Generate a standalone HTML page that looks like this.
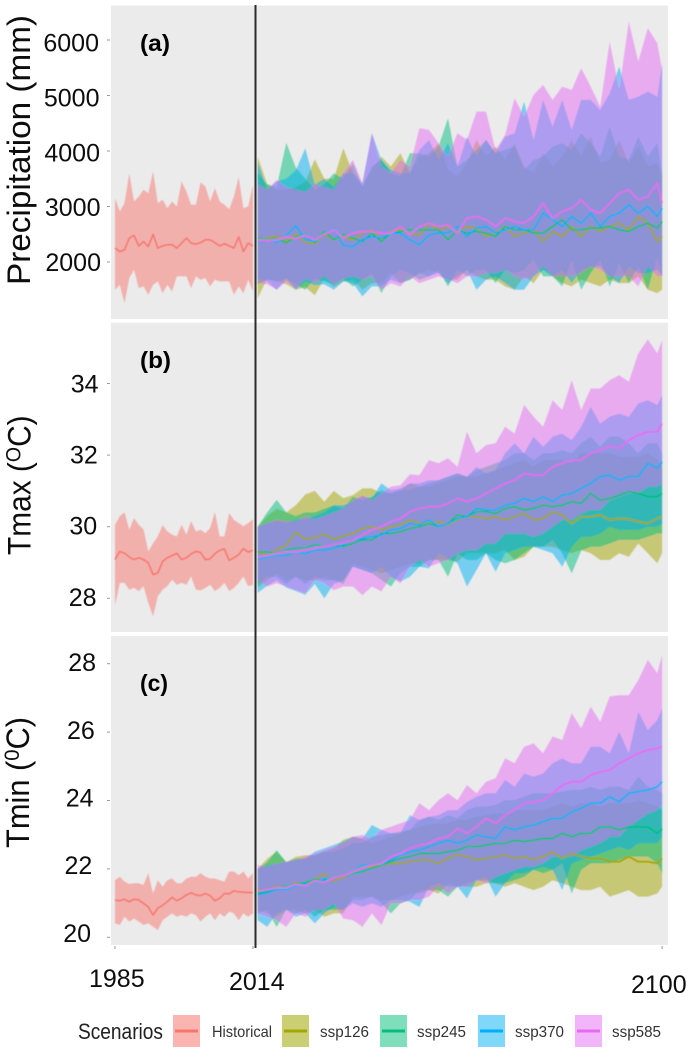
<!DOCTYPE html>
<html lang="en">
<head>
<meta charset="utf-8">
<title>Precipitation, Tmax and Tmin scenarios</title>
<style>
html,body{margin:0;padding:0;background:#fff;}
svg{display:block;font-family:"Liberation Sans",sans-serif;}
</style>
</head>
<body>
<svg id="chart" xmlns="http://www.w3.org/2000/svg" width="696" height="1060" viewBox="0 0 696 1060">
  <defs>
    <filter id="soft" x="-2%" y="-2%" width="104%" height="104%"><feGaussianBlur stdDeviation="0.6"/></filter>
    <filter id="softText" x="-5%" y="-5%" width="110%" height="110%"><feGaussianBlur stdDeviation="0.35"/></filter>
  </defs>
  <rect x="0" y="0" width="696" height="1060" fill="#ffffff"/>
  <rect x="111" y="5.5" width="557" height="313.5" fill="#ebebeb"/>
  <rect x="111" y="322.7" width="557" height="309.3" fill="#ebebeb"/>
  <rect x="111" y="636" width="557" height="309" fill="#ebebeb"/>
  <g id="marks" filter="url(#soft)"></g>
  <g id="axes" filter="url(#softText)"></g>
  <line x1="255.5" x2="255.5" y1="5" y2="948" stroke="#2b2b2b" stroke-width="2"/>
  <g filter="url(#softText)">
    <text x="140" y="51" font-size="23" font-weight="bold" fill="#000" textLength="30" lengthAdjust="spacingAndGlyphs">(a)</text>
    <text x="140" y="368" font-size="23" font-weight="bold" fill="#000" textLength="31" lengthAdjust="spacingAndGlyphs">(b)</text>
    <text x="140" y="691" font-size="23" font-weight="bold" fill="#000" textLength="28" lengthAdjust="spacingAndGlyphs">(c)</text>
    <text transform="translate(30,285) rotate(-90)" font-size="32" fill="#111" textLength="270" lengthAdjust="spacingAndGlyphs">Precipitation (mm)</text>
    <text transform="translate(30.5,555) rotate(-90) scale(0.933,1)" font-size="32" fill="#111">Tmax (<tspan font-size="21" dy="-10">O</tspan><tspan dy="10">C)</tspan></text>
    <text transform="translate(29,848) rotate(-90) scale(0.963,1)" font-size="32" fill="#111">Tmin (<tspan font-size="21" dy="-10">0</tspan><tspan dy="10">C)</tspan></text>
    <text x="89" y="987" font-size="25" fill="#111">1985</text>
    <text x="229" y="990" font-size="25" fill="#111">2014</text>
    <text x="631" y="993" font-size="25" fill="#111">2100</text>
    <text x="78" y="1039" font-size="22" fill="#222" textLength="85" lengthAdjust="spacingAndGlyphs">Scenarios</text>
  </g>
  <g filter="url(#softText)">
    <rect x="173" y="1015" width="27" height="32" fill="#f8766d" fill-opacity="0.55"/>
    <line x1="175" x2="198" y1="1031" y2="1031" stroke="#f8766d" stroke-width="3"/>
    <text x="212" y="1037" font-size="16" fill="#333" textLength="60" lengthAdjust="spacingAndGlyphs">Historical</text>
  </g>
  <g filter="url(#softText)">
    <rect x="282" y="1015" width="27" height="32" fill="#a3a500" fill-opacity="0.55"/>
    <line x1="284" x2="307" y1="1031" y2="1031" stroke="#a3a500" stroke-width="3"/>
    <text x="320" y="1037" font-size="16" fill="#333" textLength="49" lengthAdjust="spacingAndGlyphs">ssp126</text>
  </g>
  <g filter="url(#softText)">
    <rect x="380" y="1015" width="27" height="32" fill="#00bf7d" fill-opacity="0.5"/>
    <line x1="382" x2="405" y1="1031" y2="1031" stroke="#00bf7d" stroke-width="3"/>
    <text x="417" y="1037" font-size="16" fill="#333" textLength="49" lengthAdjust="spacingAndGlyphs">ssp245</text>
  </g>
  <g filter="url(#softText)">
    <rect x="478" y="1015" width="27" height="32" fill="#00b0f6" fill-opacity="0.5"/>
    <line x1="480" x2="503" y1="1031" y2="1031" stroke="#00b0f6" stroke-width="3"/>
    <text x="515" y="1037" font-size="16" fill="#333" textLength="49" lengthAdjust="spacingAndGlyphs">ssp370</text>
  </g>
  <g filter="url(#softText)">
    <rect x="575" y="1015" width="27" height="32" fill="#e76bf3" fill-opacity="0.5"/>
    <line x1="577" x2="600" y1="1031" y2="1031" stroke="#e76bf3" stroke-width="3"/>
    <text x="612" y="1037" font-size="16" fill="#333" textLength="49" lengthAdjust="spacingAndGlyphs">ssp585</text>
  </g>
</svg>
<script>
const historicalYears = [1985,1986,1987,1988,1989,1990,1991,1992,1993,1994,1995,1996,1997,1998,1999,2000,2001,2002,2003,2004,2005,2006,2007,2008,2009,2010,2011,2012,2013,2014];
const futureYears = [2015,2017,2019,2021,2023,2025,2027,2029,2031,2033,
  2035,2037,2039,2041,2043,2045,2047,2049,2051,2053,2055,2057,2059,2061,2063,2065,2067,2069,2071,2073,2075,2077,2079,2081,2083,2085,2087,2089,2091,2093,2095,2097,2099,2100];

const precipTicks = [2000,3000,4000,5000,6000];
const tmaxTicks = [28,30,32,34];
const tminTicks = [20,22,24,26,28];

/* Precipitation (mm) */
const precipHistUpper = [3150,2910,3060,3600,3090,3180,3300,3240,3630,3060,3120,2970,3090,3000,3450,3270,3030,3030,3432,3360,3090,3330,3090,3030,2952,3180,3528,2970,3000,3390];
const precipHistLower = [1500,1590,1260,1710,1860,1530,1560,1410,1590,1650,1440,1590,1470,1740,1740,1740,1530,1740,1680,1710,1560,1680,1650,1650,1650,1410,1560,1440,1680,1470];
const precipHistMean = [2250,2190,2220,2430,2480,2290,2370,2280,2500,2250,2290,2310,2310,2250,2340,2430,2340,2320,2350,2400,2400,2350,2290,2330,2290,2250,2450,2190,2340,2290];

const precip126Upper = [3900,3400,3300,3300,3350,3450,3850,3500,3500,4050,
  3600,3360,3660,3900,3720,3960,3600,3900,3960,4140,3660,3540,3780,4200,3900,4080,3840,4140,3720,3600,3960,3720,3900,4200,3900,4260,3780,3840,4200,3780,4080,3720,3780,3540];
const precip126Lower = [1350,1700,1650,1600,1500,1550,1400,1700,1550,1650,
  1680,1500,1620,1620,1800,1620,1680,1800,1860,1800,1680,1680,1860,1740,1680,1680,1560,1500,1740,1620,1860,1740,1620,1560,1680,1620,1560,1680,1620,1620,1740,1500,1440,1500];
const precip126Mean = [2400,2430,2470,2380,2500,2350,2330,2500,2400,2450,
  2400,2520,2580,2400,2550,2580,2520,2490,2700,2580,2640,2520,2640,2610,2460,2520,2640,2460,2520,2580,2370,2550,2460,2640,2460,2640,2550,2640,2700,2580,2820,2700,2370,2460];

const precip245Upper = [3600,3400,3350,4150,3700,3500,3300,3400,3600,3500,
  3780,3360,3720,3840,3600,3540,3960,3960,3900,4080,4590,3720,3840,4020,4200,3960,4020,4080,3660,3840,3900,4080,4140,4020,4320,4140,3900,4440,3900,3840,4260,3900,4140,3600];
const precip245Lower = [1600,1680,1650,1700,1600,1500,1700,1650,1600,1700,
  1560,1680,1800,1440,1740,1860,1800,1680,1740,1860,1560,1860,1740,1860,1860,1620,1860,1800,1860,2040,1740,1740,1560,2040,1500,1800,2040,1560,1980,1620,1920,1500,2100,1740];
const precip245Mean = [2430,2400,2420,2350,2450,2500,2350,2550,2400,2500,
  2430,2370,2520,2370,2520,2550,2580,2580,2580,2580,2400,2580,2520,2550,2520,2460,2640,2580,2580,2520,2520,2640,2760,2580,2580,2610,2610,2640,2580,2550,2640,2700,2610,2730];

const precip370Upper = [3800,3300,3450,3500,3650,4050,3400,3500,3350,3600,
  3600,3420,4320,3840,3660,3600,3600,4020,4200,3840,4140,3720,4260,3900,4200,3960,4260,4320,4890,4200,4920,4440,4920,4380,4920,4920,4740,5040,5520,4920,4980,5070,4980,5580];
const precip370Lower = [1700,1650,1500,1700,1500,1650,1580,1600,1500,1650,
  1620,1380,1560,1560,1680,1620,1680,1800,1740,1800,1620,1740,1860,1500,1680,1740,1620,1500,1500,1740,1860,1740,1860,1620,1860,1920,1920,1740,1620,1920,1800,1800,1860,1740];
const precip370Mean = [2380,2400,2350,2480,2650,2400,2380,2500,2600,2300,
  2280,2400,2460,2430,2520,2520,2400,2310,2490,2520,2520,2640,2460,2610,2640,2520,2580,2640,2580,2580,2880,2760,2640,2820,2700,2880,2640,2820,2880,3030,2880,3000,2820,2970];

const precip585Upper = [3400,3300,3480,3350,3300,3260,3400,3350,3300,3600,
  3840,3420,4320,3720,3600,3840,3720,4410,4380,4140,3900,4320,4200,4710,4710,4020,4290,4950,4620,5010,5190,4920,5160,5100,5490,5160,4800,5970,5100,6330,5610,6210,5940,5460];
const precip585Lower = [1620,1600,1500,1650,1520,1700,1620,1750,1600,1700,
  1740,1680,1740,1500,1620,1560,1740,1620,1680,1740,1680,1620,1740,1740,1800,1800,1860,1740,1680,1740,1920,1740,1740,1740,1800,1920,1860,1740,1740,1740,1560,1920,1740,1740];
const precip585Mean = [2400,2380,2400,2450,2420,2480,2400,2500,2580,2430,
  2520,2550,2550,2520,2520,2640,2490,2640,2700,2640,2670,2520,2790,2820,2760,2640,2790,2730,2700,2820,3060,2790,2910,2970,3120,2940,2880,3060,3240,3300,3120,3180,3420,3060];

/* Tmax (deg C) */
const tmaxHistUpper = [30.05,30.29,30.40,29.91,30.24,30.05,29.93,29.31,29.54,29.73,30.04,29.87,29.78,29.73,30.05,29.78,30.15,29.87,29.91,29.82,29.96,30.41,29.73,29.73,30.38,30.19,30.10,30.01,30.10,30.21];
const tmaxHistLower = [27.80,28.43,28.43,28.24,28.29,28.20,28.34,27.87,27.50,28.06,28.24,28.34,28.52,28.38,28.43,28.38,28.61,28.24,28.22,28.29,28.38,28.20,28.29,28.43,28.20,28.29,28.43,28.61,28.34,28.38];
const tmaxHistMean = [29.08,29.31,29.26,29.15,29.08,29.13,29.08,28.99,28.66,28.71,29.03,29.13,29.19,29.26,29.08,29.13,29.24,29.31,29.28,29.08,29.10,29.25,29.34,29.38,29.06,29.13,29.22,29.39,29.29,29.34];

const tmax126Upper = [30.0,30.3,30.5,30.4,30.6,30.9,31.0,30.7,31.0,30.8,
  30.88,31.07,31.07,30.93,30.93,31.02,31.21,31.12,31.12,31.21,31.30,31.40,31.40,31.40,31.49,31.58,31.67,31.77,31.86,31.67,31.86,31.86,31.86,31.77,32.05,32.05,32.05,32.05,31.95,31.95,31.95,32.05,31.86,31.67];
const tmax126Lower = [28.3,28.5,28.7,28.5,28.6,28.5,28.5,28.6,28.5,28.5,
  28.98,28.88,28.79,28.70,28.79,28.88,28.98,28.98,29.07,29.07,29.07,29.02,29.26,29.26,29.26,29.26,29.35,29.07,29.16,29.44,29.44,29.44,29.35,29.26,29.35,29.26,29.07,29.07,29.26,29.16,29.53,29.26,28.98,29.26];
const tmax126Mean = [29.3,29.2,29.35,29.5,29.85,29.65,29.7,29.8,29.65,29.75,
  29.81,29.95,30.00,29.91,30.00,30.05,30.19,30.09,30.09,30.14,30.05,30.19,30.28,30.28,30.23,30.28,30.19,30.28,30.37,30.19,30.23,30.42,30.33,30.09,30.28,30.28,30.33,30.19,30.23,30.21,30.14,30.09,30.23,30.28];

const tmax245Upper = [30.0,30.4,30.75,30.4,30.3,30.4,30.4,30.5,30.6,30.5,
  30.84,30.74,30.84,31.02,30.93,31.02,31.02,31.12,31.21,31.30,31.40,31.49,31.40,31.58,31.67,31.77,31.86,32.05,32.05,31.86,32.05,32.05,32.14,32.05,32.33,32.51,32.23,32.51,32.51,32.33,32.05,32.33,32.33,32.05];
const tmax245Lower = [28.4,28.6,28.6,28.4,28.6,28.4,28.6,28.5,28.5,28.4,
  28.88,28.79,28.70,28.51,28.33,28.70,28.88,28.88,29.07,29.07,28.60,29.26,29.07,29.07,29.26,29.07,28.98,29.07,29.26,29.44,29.44,29.63,29.26,28.70,29.33,29.44,29.44,29.53,29.63,29.63,29.63,29.72,29.81,29.81];
const tmax245Mean = [29.3,29.3,29.25,29.35,29.4,29.4,29.5,29.45,29.5,29.45,
  29.53,29.63,29.63,29.81,29.81,29.86,29.95,30.00,30.09,30.00,30.09,30.33,30.28,30.42,30.42,30.37,30.51,30.56,30.47,30.51,30.60,30.56,30.60,30.70,30.65,30.93,30.74,30.79,30.88,30.98,30.93,30.84,30.84,30.93];

const tmax370Upper = [30.0,30.1,30.15,30.1,30.2,30.2,30.3,30.4,30.6,30.6,
  30.70,30.84,30.79,31.21,31.02,31.07,31.21,31.21,31.30,31.30,31.40,31.49,31.40,31.67,31.49,31.58,32.05,32.33,32.05,32.51,32.23,32.51,32.60,32.42,32.79,33.35,32.88,33.07,33.16,33.07,33.44,33.53,33.40,33.67];
const tmax370Lower = [28.15,28.35,28.5,28.3,28.2,28.1,28.4,28.0,28.4,28.5,
  28.88,28.79,28.70,28.88,28.60,28.47,28.60,28.88,28.84,29.26,29.12,28.98,28.33,28.79,29.26,28.74,29.26,29.35,29.44,29.44,29.35,29.26,28.88,29.44,29.72,29.72,29.81,30.00,29.91,29.91,29.91,30.00,30.00,30.09];
const tmax370Mean = [29.1,29.15,29.2,29.2,29.3,29.25,29.35,29.35,29.4,29.5,
  29.63,29.67,29.72,29.77,29.91,29.95,30.09,30.05,30.19,30.00,30.09,30.23,30.28,30.51,30.47,30.47,30.60,30.65,30.79,30.70,30.84,30.70,30.88,30.93,31.07,31.21,31.40,31.44,31.30,31.40,31.40,31.77,31.63,31.81];

const tmax585Upper = [30.0,30.1,30.2,30.15,30.15,30.3,30.2,30.3,30.4,30.5,
  30.74,30.88,30.74,30.93,31.12,31.16,31.46,31.44,31.86,31.77,31.91,31.67,32.65,32.05,32.28,32.33,32.79,32.60,33.40,33.07,32.79,33.53,33.26,34.09,33.26,33.86,33.86,34.09,34.23,34.05,34.84,35.23,34.84,35.21];
const tmax585Lower = [28.51,28.33,28.42,28.33,28.23,28.14,28.51,28.42,28.23,28.33,
  28.33,28.09,28.33,28.19,28.60,28.42,28.88,29.07,28.88,28.98,29.07,29.26,29.35,29.35,29.53,29.53,29.81,29.81,29.81,29.72,29.81,30.00,30.19,30.19,30.37,30.47,30.47,30.74,30.84,30.93,30.93,31.12,31.12,31.21];
const tmax585Mean = [29.15,29.2,29.25,29.3,29.3,29.35,29.4,29.45,29.5,29.55,
  29.63,29.77,29.91,30.00,30.14,30.23,30.42,30.51,30.56,30.56,30.65,30.79,30.70,30.79,30.93,31.07,31.21,31.30,31.49,31.44,31.44,31.67,31.77,31.86,31.86,32.05,32.14,32.25,32.19,32.42,32.56,32.65,32.65,32.88];

/* Tmin (deg C) */
const tminHistUpper = [21.67,21.77,21.63,21.56,21.58,21.58,21.53,21.87,21.28,21.67,21.48,21.67,21.72,21.58,21.58,21.72,21.77,21.77,21.87,21.77,21.72,21.72,21.67,21.63,21.92,21.92,21.82,21.92,21.72,21.87];
const tminHistLower = [20.41,20.36,20.60,20.46,20.55,20.46,20.36,20.41,20.31,20.21,20.50,20.60,20.70,20.60,20.65,20.60,20.70,20.65,20.46,20.60,20.70,20.50,20.70,20.60,20.75,20.70,20.50,20.70,20.60,20.70];
const tminHistMean = [21.09,21.07,21.11,21.04,21.11,21.09,20.99,20.89,20.65,20.85,20.94,21.04,21.17,21.07,21.14,21.24,21.30,21.24,21.22,21.28,21.22,21.07,21.14,21.28,21.27,21.36,21.33,21.32,21.31,21.31];

const tmin126Upper = [22.0,22.3,22.5,22.2,22.35,22.4,22.4,22.5,22.6,22.85,
  22.94,22.89,22.75,22.84,22.94,23.04,23.14,23.23,23.28,23.33,23.33,23.43,23.43,23.53,23.57,23.62,23.62,23.72,23.72,23.72,23.72,23.82,23.92,23.82,23.92,23.92,23.82,23.92,23.92,23.92,24.01,23.92,23.82,23.72];
const tmin126Lower = [20.8,20.7,20.6,20.8,20.8,20.7,20.8,20.6,20.7,20.7,
  21.19,21.19,21.19,21.09,21.09,21.19,21.28,21.28,21.38,21.28,21.58,21.48,21.48,21.48,21.58,21.58,21.48,21.58,21.48,21.38,21.48,21.67,21.58,21.48,21.38,21.38,21.48,21.19,21.28,21.38,21.19,21.19,21.28,21.48];
const tmin126Mean = [21.4,21.35,21.5,21.45,21.6,21.5,21.7,21.85,21.65,21.75,
  21.92,22.06,22.06,22.11,22.16,22.16,22.21,22.26,22.26,22.16,22.31,22.41,22.36,22.26,22.31,22.36,22.41,22.31,22.36,22.26,22.36,22.50,22.31,22.45,22.36,22.31,22.31,22.21,22.21,22.36,22.21,22.21,22.16,22.31];

const tmin245Upper = [22.0,22.2,22.55,22.2,22.3,22.3,22.4,22.5,22.5,22.6,
  22.75,22.75,22.94,22.99,23.04,23.09,23.14,23.43,23.53,23.43,23.57,23.48,23.72,23.82,23.82,23.87,24.01,24.01,24.11,24.21,24.21,24.21,24.26,24.31,24.31,24.40,24.31,24.40,24.40,24.31,24.70,24.40,24.31,24.21];
const tmin245Lower = [20.7,20.8,20.3,20.8,20.7,20.8,20.6,20.8,20.8,20.8,
  21.09,21.09,21.19,20.99,20.70,20.99,21.09,21.38,21.38,21.38,21.19,21.48,21.58,21.67,21.67,21.58,21.58,21.67,21.77,21.97,21.87,21.97,22.16,21.28,21.97,22.16,22.16,22.16,22.26,22.36,22.36,22.36,22.16,21.87];
const tmin245Mean = [21.3,21.35,21.45,21.5,21.55,21.6,21.7,21.65,21.75,21.8,
  21.87,21.92,22.02,22.11,22.21,22.31,22.36,22.45,22.45,22.45,22.50,22.55,22.65,22.65,22.70,22.75,22.75,22.84,22.80,22.84,22.89,22.89,23.04,22.94,23.04,23.04,23.23,23.23,23.14,23.23,23.23,23.23,23.04,23.17];

const tmin370Upper = [22.0,22.1,22.15,22.2,22.25,22.3,22.5,22.6,22.7,22.8,
  22.94,22.89,23.28,23.14,23.04,23.04,23.57,23.43,23.53,23.57,23.72,23.72,23.96,24.11,24.21,24.21,24.60,24.40,24.79,24.70,24.79,25.09,25.23,25.09,25.09,25.57,25.57,25.38,26.01,25.38,26.60,26.06,26.35,26.69];
const tmin370Lower = [20.50,20.31,20.70,20.80,20.60,20.70,20.41,20.70,20.89,20.80,
  20.99,20.89,20.99,20.89,21.09,21.09,21.04,20.89,21.48,21.58,21.48,21.48,21.14,21.67,21.77,21.19,21.58,21.87,21.87,21.97,22.06,21.97,21.38,22.16,22.26,22.36,22.45,22.55,22.65,22.55,22.75,22.75,22.75,22.94];
const tmin370Mean = [21.25,21.3,21.4,21.4,21.5,21.55,21.6,21.7,21.75,21.8,
  21.92,22.11,22.11,22.16,22.26,22.41,22.50,22.55,22.65,22.75,22.84,22.75,22.84,22.99,22.94,22.89,23.23,23.14,23.23,23.28,23.38,23.48,23.48,23.67,23.77,23.92,23.92,24.11,23.96,24.21,24.26,24.31,24.40,24.55];

const tmin585Upper = [22.11,22.06,22.16,22.21,22.26,22.36,22.45,22.55,22.65,22.75,
  22.94,22.99,22.89,23.14,23.23,23.33,23.43,23.92,23.72,24.01,24.21,24.01,24.45,24.21,24.55,24.65,25.23,25.09,25.57,25.67,25.38,25.87,25.77,26.55,26.11,26.74,26.30,27.04,27.08,27.08,27.52,28.11,27.72,28.25];
const tmin585Lower = [20.70,20.60,20.50,20.31,20.70,20.60,20.80,20.80,20.99,20.55,
  20.50,20.31,20.70,20.36,20.99,20.99,21.09,21.09,21.19,21.48,21.28,21.48,21.48,21.67,21.58,21.77,21.87,21.97,22.06,22.06,22.16,22.36,22.36,22.36,22.55,22.65,22.75,22.94,22.94,23.23,23.43,23.62,23.72,23.87];
const tmin585Mean = [21.35,21.4,21.45,21.45,21.55,21.5,21.65,21.6,21.75,21.8,
  21.92,22.02,22.11,22.16,22.36,22.45,22.60,22.70,22.75,22.89,22.94,23.18,23.04,23.23,23.48,23.33,23.57,23.72,23.92,23.96,24.01,24.21,24.45,24.55,24.55,24.74,24.84,24.89,25.09,25.23,25.38,25.48,25.52,25.57];

const SVG_NS = 'http://www.w3.org/2000/svg';
const marks = document.getElementById('marks');
const axes = document.getElementById('axes');

function xScale(year) { return 115 + (year - 1985) * 4.757; }
function linearY(v0, y0, pxPerUnit) { return function (v) { return y0 - (v - v0) * pxPerUnit; }; }

const scenarioColors = { historical: '#f8766d', ssp126: '#a3a500', ssp245: '#00bf7d', ssp370: '#00b0f6', ssp585: '#e76bf3' };

const panels = [
  { key: 'precipitation', y: linearY(2000, 262, 0.0555), ticks: precipTicks,
    rightTop: 99, rightBottom: 101, dyTop: 11.5, dyBottom: 9,
    series: [
      ['historical', historicalYears, precipHistUpper, precipHistLower, precipHistMean],
      ['ssp126', futureYears, precip126Upper, precip126Lower, precip126Mean],
      ['ssp245', futureYears, precip245Upper, precip245Lower, precip245Mean],
      ['ssp370', futureYears, precip370Upper, precip370Lower, precip370Mean],
      ['ssp585', futureYears, precip585Upper, precip585Lower, precip585Mean]
    ] },
  { key: 'tmax', y: linearY(30, 526.7, 35.8), ticks: tmaxTicks,
    rightTop: 98.5, rightBottom: 96.5, dyTop: 9, dyBottom: 7.5,
    series: [
      ['historical', historicalYears, tmaxHistUpper, tmaxHistLower, tmaxHistMean],
      ['ssp126', futureYears, tmax126Upper, tmax126Lower, tmax126Mean],
      ['ssp245', futureYears, tmax245Upper, tmax245Lower, tmax245Mean],
      ['ssp370', futureYears, tmax370Upper, tmax370Lower, tmax370Mean],
      ['ssp585', futureYears, tmax585Upper, tmax585Lower, tmax585Mean]
    ] },
  { key: 'tmin', y: linearY(20, 937.3, 34.2), ticks: tminTicks,
    rightTop: 96, rightBottom: 91, dyTop: 7.5, dyBottom: 4.5,
    series: [
      ['historical', historicalYears, tminHistUpper, tminHistLower, tminHistMean],
      ['ssp126', futureYears, tmin126Upper, tmin126Lower, tmin126Mean],
      ['ssp245', futureYears, tmin245Upper, tmin245Lower, tmin245Mean],
      ['ssp370', futureYears, tmin370Upper, tmin370Lower, tmin370Mean],
      ['ssp585', futureYears, tmin585Upper, tmin585Lower, tmin585Mean]
    ] }
];

function polylinePoints(years, values, yFn) {
  return values.map(function (v, i) { return xScale(years[i]).toFixed(1) + ',' + yFn(v).toFixed(1); });
}

panels.forEach(function (panel) {
  const group = document.createElementNS(SVG_NS, 'g');
  
  
  marks.appendChild(group);

  panel.series.forEach(function (s) {
    const name = s[0], years = s[1], upper = s[2], lower = s[3];
    const top = polylinePoints(years, upper, panel.y);
    const bottom = polylinePoints(years, lower, panel.y).reverse();
    const ribbon = document.createElementNS(SVG_NS, 'polygon');
    ribbon.setAttribute('points', top.concat(bottom).join(' '));
    ribbon.setAttribute('fill', scenarioColors[name]);
    ribbon.setAttribute('fill-opacity', '0.5');
    
    
    group.appendChild(ribbon);
  });

  panel.series.forEach(function (s) {
    const name = s[0], years = s[1], mean = s[4];
    const line = document.createElementNS(SVG_NS, 'polyline');
    line.setAttribute('points', polylinePoints(years, mean, panel.y).join(' '));
    line.setAttribute('fill', 'none');
    line.setAttribute('stroke', scenarioColors[name]);
    line.setAttribute('stroke-width', name === 'historical' ? '1.5' : '1.7');
    line.setAttribute('stroke-linejoin', 'round');
    
    
    group.appendChild(line);
  });

  const n = panel.ticks.length - 1;
  panel.ticks.forEach(function (tick, i) {
    const y = panel.y(tick);
    const share = i / n;
    const bottomShare = 1 - share;
    const right = panel.rightTop * share + panel.rightBottom * bottomShare;
    const dy = panel.dyTop * share + panel.dyBottom * bottomShare;

    const mark = document.createElementNS(SVG_NS, 'line');
    mark.setAttribute('x1', '107');
    mark.setAttribute('x2', '110');
    mark.setAttribute('y1', y.toFixed(1));
    mark.setAttribute('y2', y.toFixed(1));
    mark.setAttribute('stroke', '#999999');
    mark.setAttribute('stroke-width', '1');
    
    
    axes.appendChild(mark);

    const label = document.createElementNS(SVG_NS, 'text');
    label.setAttribute('x', right.toFixed(1));
    label.setAttribute('y', (y + dy).toFixed(1));
    label.setAttribute('text-anchor', 'end');
    label.setAttribute('font-size', '25');
    label.setAttribute('fill', '#111111');
    
    
    label.textContent = String(tick);
    axes.appendChild(label);
  });
});

const xTickYears = [1985, 2014, 2100];
xTickYears.forEach(function (year) {
  const mark = document.createElementNS(SVG_NS, 'line');
  mark.setAttribute('x1', xScale(year).toFixed(1));
  mark.setAttribute('x2', xScale(year).toFixed(1));
  mark.setAttribute('y1', '946');
  mark.setAttribute('y2', '949');
  mark.setAttribute('stroke', '#999999');
  mark.setAttribute('stroke-width', '1');
  
  
  axes.appendChild(mark);
});
</script>
</body>
</html>
